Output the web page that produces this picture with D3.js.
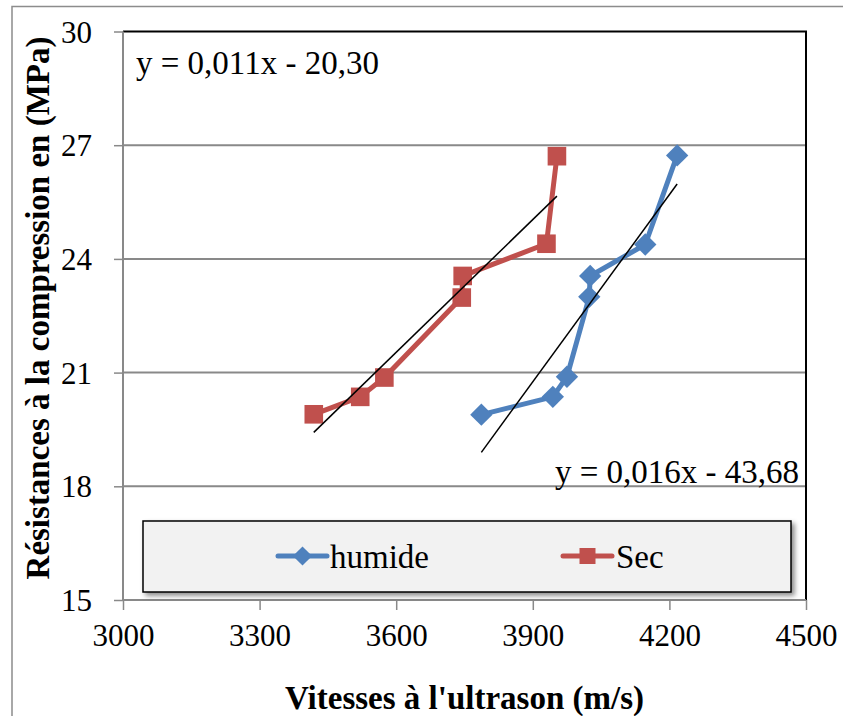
<!DOCTYPE html>
<html>
<head>
<meta charset="utf-8">
<script src="https://cdn.jsdelivr.net/npm/d3@7"></script>
<style>
  html, body { margin: 0; padding: 0; background: #fff; }
  svg { display: block; font-family: "Liberation Serif", "Times New Roman", serif; }
</style>
</head>
<body>
<svg id="chart" width="843" height="716"></svg>
<script>
// Ultrasonic pulse velocity (m/s) vs compressive strength (MPa)
const humideVitesse = [3787, 3944, 3975, 4024, 4026, 4147, 4217];
const humideResistance = [19.89, 20.36, 20.89, 23.00, 23.55, 24.38, 26.73];
const secVitesse = [3419, 3521, 3574, 3744, 3746, 3930, 3953];
const secResistance = [19.90, 20.36, 20.87, 22.98, 23.55, 24.40, 26.71];

const xTicks = [3000, 3300, 3600, 3900, 4200, 4500];
const yTicks = [15, 18, 21, 24, 27, 30];
const seriesNames = ["humide", "Sec"];
const equationLabels = ["y = 0,011x - 20,30", "y = 0,016x - 43,68"];

const svg = d3.select("#chart");
const W = 843, H = 716;
const plot = { left: 123, right: 806, top: 31.5, bottom: 600 };

const x = d3.scaleLinear().domain([3000, 4500]).range([plot.left, plot.right]);
const y = d3.scaleLinear().domain([15, 30]).range([plot.bottom, plot.top]);

const blue = "#4F81BD", red = "#C0504D", grid = "#898989";

// outer chart frame
svg.append("rect")
  .attr("x", 12).attr("y", 6.5).attr("width", W + 20).attr("height", H + 20)
  .attr("fill", "#fff").attr("stroke", "#8c8c8c").attr("stroke-width", 1.5);

// horizontal gridlines
svg.append("g").selectAll("line").data(yTicks.filter(t => t > 15 && t < 30)).join("line")
  .attr("x1", plot.left).attr("x2", plot.right)
  .attr("y1", d => y(d)).attr("y2", d => y(d))
  .attr("stroke", grid).attr("stroke-width", 2);

// plot-area border (top + right in black)
svg.append("path")
  .attr("d", `M${plot.left},${plot.top}H${plot.right}V${plot.bottom}`)
  .attr("fill", "none").attr("stroke", "#000").attr("stroke-width", 2);

// axes
const xAxis = d3.axisBottom(x).tickValues(xTicks).tickSize(10).tickPadding(14).tickFormat(d3.format("d"));
const yAxis = d3.axisLeft(y).tickValues(yTicks).tickSize(9).tickPadding(22).tickFormat(d3.format("d"));

const gx = svg.append("g").attr("transform", `translate(0,${plot.bottom})`).call(xAxis);
const gy = svg.append("g").attr("transform", `translate(${plot.left},0)`).call(yAxis);
[gx, gy].forEach(g => {
  g.attr("font-family", null).attr("font-size", null);
  g.select(".domain").attr("stroke", grid).attr("stroke-width", 2);
  g.selectAll(".tick line").attr("stroke", grid).attr("stroke-width", 1.5);
  g.selectAll(".tick text").attr("fill", "#000")
    .style("font-family", "'Liberation Serif', serif").style("font-size", "31px");
});
gx.select(".domain").attr("d", `M${plot.left},0H${plot.right}`);
gy.select(".domain").attr("d", `M0,${plot.bottom}V${plot.top}`);
gx.selectAll(".tick text").attr("dy", "0.71em");
gy.selectAll(".tick text").attr("dy", "0.34em");

// axis titles
svg.append("text")
  .attr("x", (plot.left + plot.right) / 2).attr("y", 709)
  .attr("text-anchor", "middle")
  .style("font-size", "33px").style("font-weight", "bold")
  .text("Vitesses à l'ultrason (m/s)");

svg.append("text")
  .attr("transform", "translate(49,308) rotate(-90)")
  .attr("text-anchor", "middle")
  .style("font-size", "33px").style("font-weight", "bold")
  .text("Résistances à la compression en (MPa)");

// least-squares trend line over the x-range of a series
function linearFit(xs, ys) {
  const mx = d3.mean(xs), my = d3.mean(ys);
  const sxy = d3.sum(xs, (v, i) => (v - mx) * (ys[i] - my));
  const sxx = d3.sum(xs, v => (v - mx) ** 2);
  const slope = sxy / sxx;
  return { slope, intercept: my - slope * mx };
}

const series = [
  { name: seriesNames[0], xs: humideVitesse, ys: humideResistance, color: blue, marker: "diamond" },
  { name: seriesNames[1], xs: secVitesse, ys: secResistance, color: red, marker: "square" }
];

const line = d3.line().x(d => x(d[0])).y(d => y(d[1]));

function drawMarker(g, kind, cx, cy, color, s) {
  if (kind === "square") {
    g.append("rect").attr("x", cx - s).attr("y", cy - s).attr("width", 2 * s).attr("height", 2 * s)
      .attr("fill", color);
  } else {
    const r = s * 1.2;
    g.append("path").attr("d", `M${cx},${cy - r}L${cx + r},${cy}L${cx},${cy + r}L${cx - r},${cy}Z`)
      .attr("fill", color);
  }
}

series.forEach(s => {
  const pts = s.xs.map((v, i) => [v, s.ys[i]]);
  const g = svg.append("g");
  g.append("path").datum(pts).attr("d", line)
    .attr("fill", "none").attr("stroke", s.color).attr("stroke-width", 5)
    .attr("stroke-linejoin", "round");
  pts.forEach(p => drawMarker(g, s.marker, x(p[0]), y(p[1]), s.color, 9.3));
});

// trend lines drawn on top
series.forEach(s => {
  const fit = linearFit(s.xs, s.ys);
  const x0 = d3.min(s.xs), x1 = d3.max(s.xs);
  svg.append("path")
    .datum([[x0, fit.slope * x0 + fit.intercept], [x1, fit.slope * x1 + fit.intercept]])
    .attr("d", line).attr("fill", "none").attr("stroke", "#000").attr("stroke-width", 1.5);
});

// regression equations
svg.append("text").attr("x", 136).attr("y", 74)
  .style("font-size", "33px").text(equationLabels[0]);
svg.append("text").attr("x", 799).attr("y", 483).attr("text-anchor", "end")
  .style("font-size", "33px").text(equationLabels[1]);

// legend
const defs = svg.append("defs");
const f = defs.append("filter").attr("id", "shadow").attr("x", "-5%").attr("y", "-20%").attr("width", "115%").attr("height", "150%");
f.append("feDropShadow").attr("dx", 3).attr("dy", 3).attr("stdDeviation", 2.5).attr("flood-color", "#000").attr("flood-opacity", 0.45);

const lg = svg.append("g");
lg.append("rect").attr("x", 143).attr("y", 521).attr("width", 648).attr("height", 71)
  .attr("fill", "#f2f2f2").attr("stroke", "#000").attr("stroke-width", 1.5)
  .attr("filter", "url(#shadow)");

const legendItems = [
  { s: series[0], lx: 278, tx: 330 },
  { s: series[1], lx: 563, tx: 616 }
];
legendItems.forEach(it => {
  lg.append("line").attr("x1", it.lx).attr("x2", it.lx + 49).attr("y1", 556).attr("y2", 556)
    .attr("stroke", it.s.color).attr("stroke-width", 5).attr("stroke-linecap", "round");
  drawMarker(lg, it.s.marker, it.lx + 24.5, 556, it.s.color, 8);
  lg.append("text").attr("x", it.tx).attr("y", 568)
    .style("font-size", "33px").text(it.s.name);
});
</script>
</body>
</html>
